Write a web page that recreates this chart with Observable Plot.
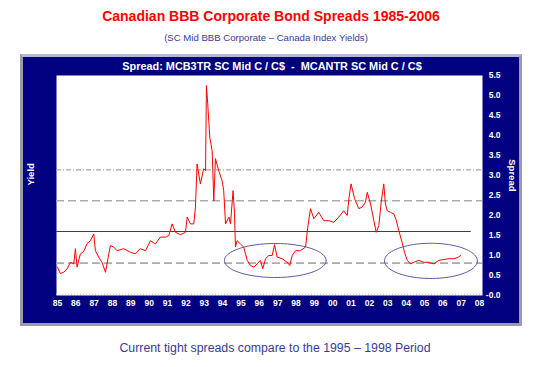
<!DOCTYPE html>
<html><head><meta charset="utf-8">
<script src="https://cdn.jsdelivr.net/npm/d3@7"></script>
<script src="https://cdn.jsdelivr.net/npm/@observablehq/plot@0.6"></script>
<style>
body{margin:0;background:#fff;font-family:"Liberation Sans",Arial,Helvetica,sans-serif;}
#wrap{position:relative;width:548px;height:367px;overflow:hidden;}
.t{position:absolute;text-align:center;white-space:pre;}
#title{left:0;width:542px;top:8px;line-height:16px;font-size:14px;font-weight:bold;color:#ff0000;}
#sub{left:0;width:532px;top:32px;line-height:12px;font-size:9.6px;color:#3a3a9a;}
#panel{position:absolute;left:20px;top:54px;width:502px;height:272px;box-sizing:border-box;background:#000080;
  border:3px solid #9a9aaa;border-top-color:#b8b8d6;}
#inner{left:0;width:544px;top:60px;line-height:13px;font-size:10.9px;font-weight:bold;color:#fff;}
#cap{left:0;width:550px;top:341px;line-height:14px;font-size:12.3px;color:#3a3a9a;}
#chart{position:absolute;left:0;top:0;}
</style></head>
<body>
<div id="wrap">
  <div id="title" class="t">Canadian BBB Corporate Bond Spreads 1985-2006</div>
  <div id="sub" class="t">(SC Mid BBB Corporate – Canada Index Yields)</div>
  <div id="panel"></div>
  <div id="inner" class="t">Spread: MCB3TR SC Mid C / C$  -  MCANTR SC Mid C / C$</div>
  <div id="chart"></div>
  <div id="cap" class="t">Current tight spreads compare to the 1995 – 1998 Period</div>
</div>
<script>
// ---- data ----
const years = [1985.00,1985.16,1985.34,1985.53,1985.71,1985.89,1985.98,1986.07,1986.25,1986.43,1986.62,1986.80,1986.98,1987.07,1987.25,1987.43,1987.62,1987.80,1987.89,1988.07,1988.25,1988.61,1988.98,1989.25,1989.52,1989.80,1990.07,1990.34,1990.61,1990.89,1991.07,1991.25,1991.43,1991.70,1991.98,1992.07,1992.25,1992.43,1992.52,1992.61,1992.79,1992.97,1993.07,1993.12,1993.19,1993.30,1993.43,1993.52,1993.61,1993.79,1993.97,1994.06,1994.16,1994.34,1994.43,1994.57,1994.65,1994.70,1994.79,1994.97,1995.15,1995.34,1995.52,1995.70,1995.88,1996.06,1996.19,1996.34,1996.52,1996.70,1996.83,1996.97,1997.24,1997.52,1997.66,1997.79,1997.97,1998.24,1998.52,1998.64,1998.79,1998.97,1999.24,1999.51,1999.79,2000.06,2000.33,2000.60,2000.79,2000.88,2001.00,2001.19,2001.42,2001.60,2001.78,2001.88,2002.06,2002.24,2002.37,2002.51,2002.64,2002.78,2002.87,2002.97,2003.15,2003.33,2003.47,2003.60,2003.78,2003.91,2004.06,2004.24,2004.42,2004.69,2004.96,2005.23,2005.51,2005.78,2006.05,2006.32,2006.60,2006.82,2006.96];
const spreads = [0.71,0.55,0.58,0.67,0.83,0.79,1.17,0.71,1.04,1.10,1.30,1.37,1.54,1.12,0.96,0.83,0.58,1.04,1.25,1.21,1.12,1.17,1.08,1.04,1.17,1.12,1.37,1.29,1.46,1.46,1.50,1.79,1.58,1.52,1.58,1.96,1.79,1.79,2.21,3.29,2.79,3.17,3.12,5.25,4.79,3.96,3.62,2.37,3.42,3.12,2.87,2.62,1.79,1.96,1.79,2.62,2.04,1.21,1.37,1.29,1.21,0.88,0.75,0.71,0.79,0.88,0.67,0.92,1.00,1.00,1.27,0.96,0.92,0.83,0.75,1.00,1.12,1.12,1.21,1.71,2.17,1.92,2.08,1.87,1.87,1.83,1.96,2.12,2.00,2.42,2.79,2.42,2.17,2.21,2.33,2.58,2.29,1.87,1.58,1.75,2.33,2.79,2.29,2.12,2.08,2.04,1.87,1.62,1.33,1.08,0.88,0.79,0.83,0.88,0.83,0.83,0.79,0.88,0.90,0.92,0.92,0.95,1.00];

const meanLevel = [1.60];
const meanLineEnd = [2007.55];
const dashedLevels = [2.37, 0.81];
const dashDotLevels = [3.14];
const dottedLevels = [0.03];

const ellipseCx = [1996.87, 2005.35];
const ellipseCy = [0.875, 0.866];
const ellipseRx = [2.77, 2.53];
const ellipseRy = [0.425, 0.44];

const xTicks = [1985,1986,1987,1988,1989,1990,1991,1992,1993,1994,1995,1996,1997,1998,1999,2000,2001,2002,2003,2004,2005,2006,2007,2008];
const xTickLabels = ["85","86","87","88","89","90","91","92","93","94","95","96","97","98","99","00","01","02","03","04","05","06","07","08"];
const yTicks = [0,0.5,1,1.5,2,2.5,3,3.5,4,4.5,5,5.5];
const yTickLabels = ["-0.0","0.5","1.0","1.5","2.0","2.5","3.0","3.5","4.0","4.5","5.0","5.5"];

// ---- build tables ----
const series = years.map((y, i) => ({year: y, spread: spreads[i]}));
const ellipsePts = [];
ellipseCx.forEach((cx, k) => {
  for (let j = 0; j <= 90; j++) {
    const t = (j / 90) * 2 * Math.PI;
    ellipsePts.push({id: k, x: cx + ellipseRx[k] * Math.cos(t), y: ellipseCy[k] + ellipseRy[k] * Math.sin(t)});
  }
});

const font = "Liberation Sans, Arial, Helvetica, sans-serif";
const chart = Plot.plot({
  width: 548, height: 367,
  marginLeft: 56, marginRight: 66, marginTop: 75, marginBottom: 72,
  style: {background: "transparent", color: "white", fontFamily: font, overflow: "visible"},
  x: {domain: [1984.95, 2008.16]},
  y: {domain: [0, 5.5]},
  marks: [
    Plot.frame({fill: "white"}),
    Plot.ruleY(dottedLevels, {stroke: "#c4c4c4", strokeDasharray: "1,2", strokeWidth: 1}),
    Plot.ruleY(dashDotLevels, {stroke: "#a8a8a8", strokeDasharray: "5,2,1,2", strokeWidth: 1.2}),
    Plot.ruleY(dashedLevels, {stroke: "#acacac", strokeDasharray: "8,4", strokeWidth: 1.6}),
    Plot.ruleY(meanLevel, {x1: 1984.95, x2: meanLineEnd[0], stroke: "#404040", strokeWidth: 1.2}),
    Plot.line(series, {x: "year", y: "spread", stroke: "#ff0000", strokeWidth: 1}),
    Plot.line(ellipsePts, {x: "x", y: "y", z: "id", stroke: "#5a5aaa", strokeWidth: 1}),
    Plot.axisX({ticks: xTicks, tickFormat: d => xTickLabels[xTicks.indexOf(d)], tickSize: 0, tickPadding: 4,
      fontSize: 8.5, fontWeight: "bold", fill: "white", label: null}),
    Plot.axisY({anchor: "right", ticks: yTicks, tickFormat: d => yTickLabels[yTicks.indexOf(d)], tickSize: 0, tickPadding: 18,
      textAnchor: "end", fontSize: 8.5, fontWeight: "bold", fill: "white", label: null}),
    Plot.text(["Yield"], {text: d => d, frameAnchor: "left", dx: -26, rotate: -90, fill: "white", fontSize: 9.5, fontWeight: "bold"}),
    Plot.text(["Spread"], {text: d => d, frameAnchor: "right", dx: 30, dy: 6, rotate: 90, fill: "white", fontSize: 9.5, fontWeight: "bold"})
  ]
});
document.getElementById("chart").appendChild(chart);
</script>
</body></html>
